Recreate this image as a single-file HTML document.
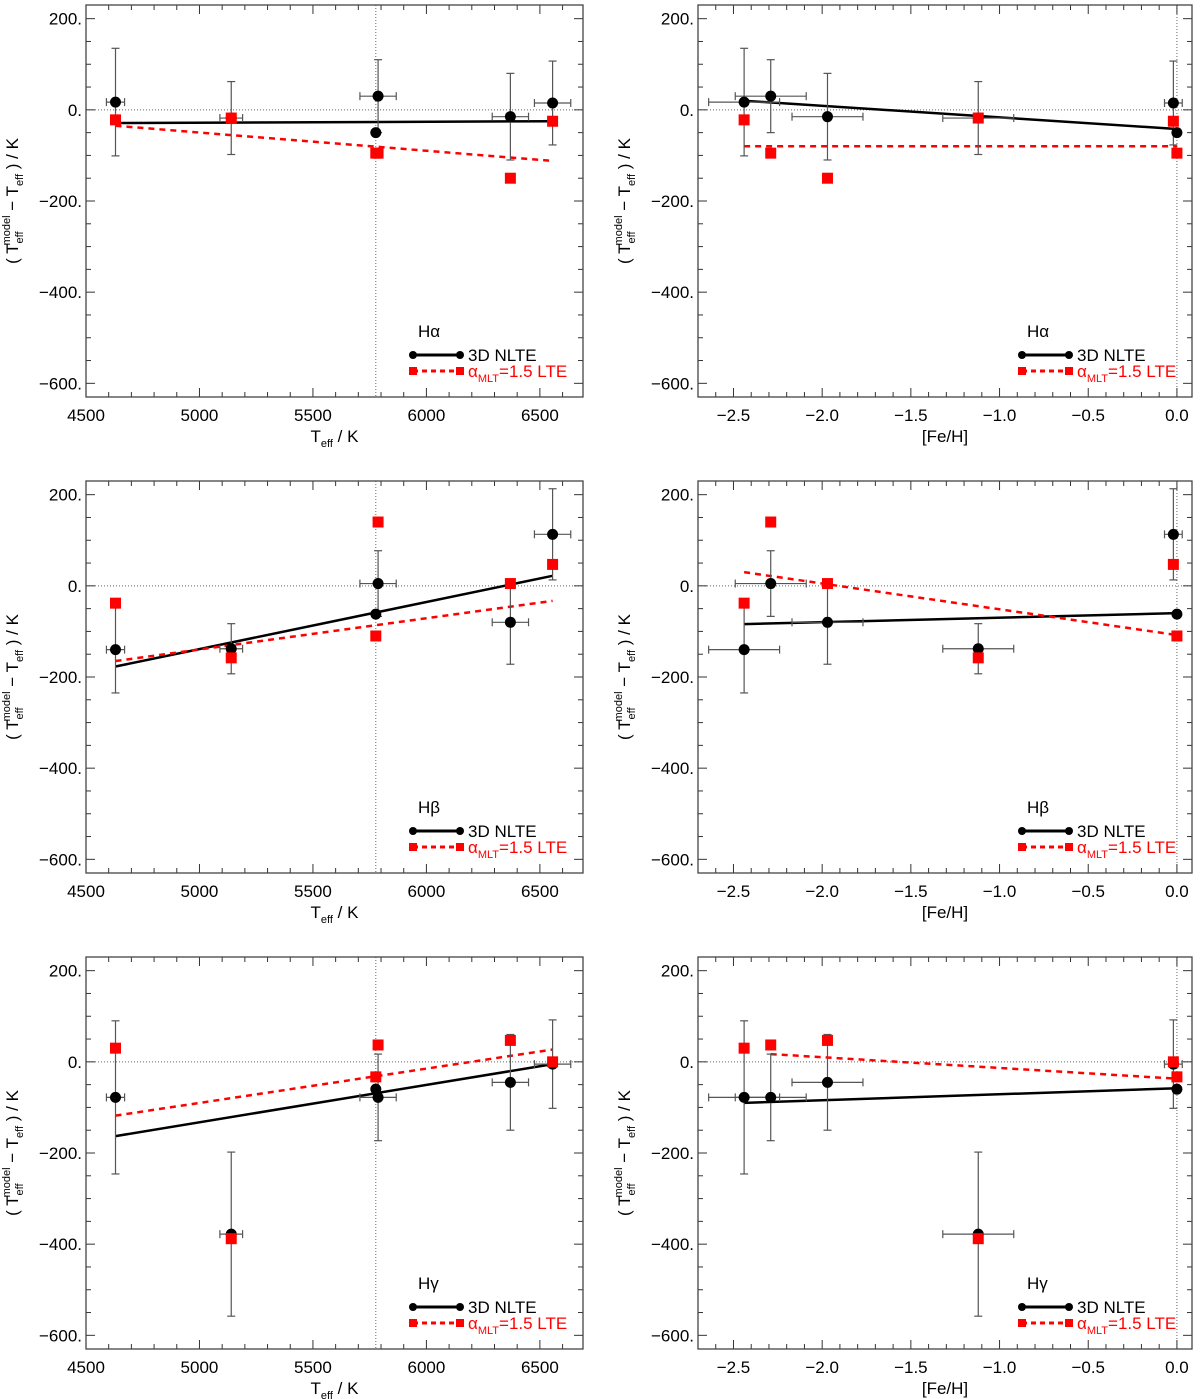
<!DOCTYPE html>
<html><head><meta charset="utf-8"><style>
html,body{margin:0;padding:0;background:#fff;}
svg{display:block;font-family:"Liberation Sans",sans-serif;}
</style></head><body>
<svg id="fig" width="1200" height="1399" viewBox="0 0 1200 1399"></svg>
<script>
// Star data (shared across panels)
const teff = [4630, 5140, 5787, 6370, 5777, 6556];
const teffErr = [40, 50, 80, 80, 0, 80];
const feh = [-2.44, -1.12, -2.29, -1.97, 0.0, -0.02];
const fehErr = [0.2, 0.2, 0.2, 0.2, 0.0, 0.05];
const lineNames = ["H\u03b1", "H\u03b2", "H\u03b3"];
// 3D NLTE residuals per line
const nlte = [[17, -18, 30, -15, -50, 15], [-140, -138, 5, -80, -62, 113], [-78, -378, -78, -45, -60, -5]];
const nlteErr = [[118, 80, 80, 95, 0, 92], [95, 55, 72, 92, 0, 100], [168, 180, 95, 105, 0, 97]];
// 1D LTE residuals
const lte = [[-22, -18, -95, -150, -95, -25], [-38, -158, 140, 5, -110, 47], [30, -388, 37, 47, -33, 0]];
// fit lines [x0,y0,x1,y1]
const fitTeffNlte = [[4630, -29, 6556, -25], [4630, -177, 6556, 22], [4630, -163, 6556, -5]];
const fitTeffLte = [[4630, -35, 6556, -112], [4630, -165, 6556, -33], [4630, -118, 6556, 27]];
const fitFehNlte = [[-2.44, 20, 0, -42], [-2.44, -84, 0, -60], [-2.44, -90, 0, -58]];
const fitFehLte = [[-2.44, -80, 0, -80], [-2.44, 30, 0, -108], [-2.29, 17, 0, -37]];
const xTicksTeff = [4500, 5000, 5500, 6000, 6500];
const xTicksFeh = [-2.5, -2.0, -1.5, -1.0, -0.5, 0.0];
const yTicks = [200, 0, -200, -400, -600];

const NS = "http://www.w3.org/2000/svg";
const svg = document.getElementById("fig");
function el(tag, attrs, parent, txt) {
  const e = document.createElementNS(NS, tag);
  for (const k in attrs) e.setAttribute(k, attrs[k]);
  if (txt !== undefined) e.textContent = txt;
  (parent || svg).appendChild(e);
  return e;
}
const ymin = -630, ymax = 230;
function fmtFeh(v){ return (v < 0 ? "\u2212" : "") + Math.abs(v).toFixed(1); }
function fmtY(v){ return (v < 0 ? "\u2212" : "") + Math.abs(v) + "."; }

for (let r = 0; r < 3; r++) {
  for (let c = 0; c < 2; c++) {
    const top = 5 + r * 476, bot = top + 392;
    const L = c === 0 ? 86 : 698, R = c === 0 ? 583 : 1192;
    const xmin = c === 0 ? 4500 : -2.70, xmax = c === 0 ? 6690 : 0.085;
    const X = v => L + (v - xmin) / (xmax - xmin) * (R - L);
    const Y = v => bot - (v - ymin) / (ymax - ymin) * (bot - top);
    const g = el("g", {}, svg);
    
    
    // reference lines
    el("line", {x1: L, x2: R, y1: Y(0), y2: Y(0), stroke: "#666", "stroke-width": 1, "stroke-dasharray": "1,2"}, g);
    const vx = c === 0 ? X(5777) : X(0);
    el("line", {x1: vx, x2: vx, y1: top, y2: bot, stroke: "#666", "stroke-width": 1, "stroke-dasharray": "1,2"}, g);
    // ticks
    const tk = el("g", {stroke: "#333", "stroke-width": 1}, g);
    for (let v = -600; v <= 200; v += 50) {
      const len = v % 200 === 0 ? 9 : 5, y = Y(v);
      el("line", {x1: L, x2: L + len, y1: y, y2: y}, tk);
      el("line", {x1: R, x2: R - len, y1: y, y2: y}, tk);
    }
    if (c === 0) {
      for (let v = 4500; v <= 6600; v += 100) {
        const len = v % 500 === 0 ? 9 : 5, x = X(v);
        el("line", {x1: x, x2: x, y1: bot, y2: bot - len}, tk);
        el("line", {x1: x, x2: x, y1: top, y2: top + len}, tk);
      }
    } else {
      for (let i = -27; i <= 0; i++) {
        const v = i / 10, len = i % 5 === 0 ? 9 : 5, x = X(v);
        el("line", {x1: x, x2: x, y1: bot, y2: bot - len}, tk);
        el("line", {x1: x, x2: x, y1: top, y2: top + len}, tk);
      }
    }
    el("rect", {x: L, y: top, width: R - L, height: bot - top, fill: "none", stroke: "#444", "stroke-width": 1.3}, g);
    // tick labels
    yTicks.forEach(v => {
      const t = el("text", {x: L - 4, y: Y(v) + 6, "text-anchor": "end", "font-size": 17}, g, fmtY(v));
      
      
    });
    const xt = c === 0 ? xTicksTeff : xTicksFeh;
    xt.forEach(v => {
      const t = el("text", {x: X(v), y: bot + 24, "text-anchor": "middle", "font-size": 17}, g, c === 0 ? String(v) : fmtFeh(v));
      
      
    });
    // axis titles
    const xtitle = el("text", {x: (L + R) / 2, y: bot + 45, "text-anchor": "middle", "font-size": 17}, g);
    
    
    if (c === 0) {
      xtitle.innerHTML = 'T<tspan font-size="11" dy="5">eff</tspan><tspan dy="-5"> / K</tspan>';
    } else { xtitle.textContent = "[Fe/H]"; }
    const yx = L - 68, yy = (top + bot) / 2;
    const ytitle = el("text", {x: yx, y: yy, transform: `rotate(-90 ${yx} ${yy})`, "text-anchor": "middle", "font-size": 17}, g);
    
    
    ytitle.innerHTML = '( T<tspan font-size="11" dy="5">eff</tspan><tspan font-size="11" dx="-14" dy="-13">model</tspan><tspan dy="8"> \u2212 T</tspan><tspan font-size="11" dy="5">eff</tspan><tspan dy="-5"> ) / K</tspan>';
    // fit lines
    const fn = c === 0 ? fitTeffNlte[r] : fitFehNlte[r];
    const fl = c === 0 ? fitTeffLte[r] : fitFehLte[r];
    const l1 = el("line", {x1: X(fn[0]), y1: Y(fn[1]), x2: X(fn[2]), y2: Y(fn[3]), stroke: "#000", "stroke-width": 2.5}, g);
    
    
    const l2 = el("line", {x1: X(fl[0]), y1: Y(fl[1]), x2: X(fl[2]), y2: Y(fl[3]), stroke: "#f00", "stroke-width": 2.5, "stroke-dasharray": "6,5"}, g);
    
    
    // error bars + points
    const xs = c === 0 ? teff : feh, xe = c === 0 ? teffErr : fehErr;
    for (let i = 0; i < xs.length; i++) {
      const x = X(xs[i]), y = Y(nlte[r][i]);
      const eb = el("g", {stroke: "#555", "stroke-width": 1.2}, g);
      
      
      const ye = nlteErr[r][i];
      if (ye > 0) {
        el("line", {x1: x, x2: x, y1: Y(nlte[r][i] + ye), y2: Y(nlte[r][i] - ye)}, eb);
        el("line", {x1: x - 4, x2: x + 4, y1: Y(nlte[r][i] + ye), y2: Y(nlte[r][i] + ye)}, eb);
        el("line", {x1: x - 4, x2: x + 4, y1: Y(nlte[r][i] - ye), y2: Y(nlte[r][i] - ye)}, eb);
      }
      if (xe[i] > 0) {
        const a = X(xs[i] - xe[i]), b = X(xs[i] + xe[i]);
        el("line", {x1: a, x2: b, y1: y, y2: y}, eb);
        el("line", {x1: a, x2: a, y1: y - 4, y2: y + 4}, eb);
        el("line", {x1: b, x2: b, y1: y - 4, y2: y + 4}, eb);
      }
    }
    for (let i = 0; i < xs.length; i++) {
      const p = el("circle", {cx: X(xs[i]), cy: Y(nlte[r][i]), r: 5.5, fill: "#000"}, g);
      
      
    }
    for (let i = 0; i < xs.length; i++) {
      const s = el("rect", {x: X(xs[i]) - 5.5, y: Y(lte[r][i]) - 5.5, width: 11, height: 11, fill: "#f00"}, g);
      
      
    }
    // legend
    const lx = R - 170;
    const lg = el("g", {}, g);
    
    
    el("text", {x: lx + 5, y: top + 332, "font-size": 17}, lg, lineNames[r]);
    el("line", {x1: lx, x2: lx + 47, y1: top + 350, y2: top + 350, stroke: "#000", "stroke-width": 3}, lg);
    el("circle", {cx: lx, cy: top + 350, r: 4, fill: "#000"}, lg);
    el("circle", {cx: lx + 47, cy: top + 350, r: 4, fill: "#000"}, lg);
    el("text", {x: lx + 55, y: top + 356, "font-size": 17}, lg, "3D NLTE");
    el("line", {x1: lx, x2: lx + 47, y1: top + 366, y2: top + 366, stroke: "#f00", "stroke-width": 3, "stroke-dasharray": "5,4"}, lg);
    el("rect", {x: lx - 4, y: top + 362, width: 8, height: 8, fill: "#f00"}, lg);
    el("rect", {x: lx + 43, y: top + 362, width: 8, height: 8, fill: "#f00"}, lg);
    const lt = el("text", {x: lx + 55, y: top + 372, "font-size": 17, fill: "#f00"}, lg);
    lt.innerHTML = '\u03b1<tspan font-size="11" dy="5">MLT</tspan><tspan dy="-5">=1.5 LTE</tspan>';
  }
}
</script>
</body></html>
